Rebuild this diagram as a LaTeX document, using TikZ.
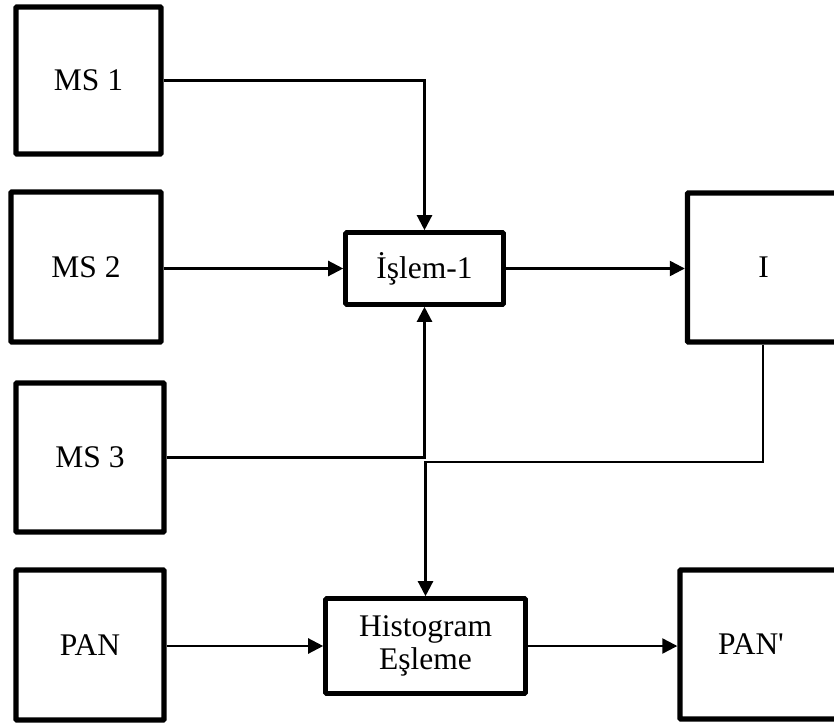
\documentclass[tikz,border=0pt]{standalone}
\usepackage{fontspec}
\setmainfont{Liberation Serif}[Ligatures=TeXOff]
\usetikzlibrary{arrows.meta}
\begin{document}
\begin{tikzpicture}[x=1pt,y=-1pt,
  lbl/.style={font=\fontsize{31.5}{33}\selectfont, inner sep=0pt, align=center},
  bigbox/.style={lbl, draw, line width=5.4pt, rounded corners=1pt},
  procbox/.style={lbl, draw, line width=4.6pt, rounded corners=1pt},
  conn/.style={draw, line width=2.3pt, -{Triangle[length=15pt,width=15pt]}}]
  \clip (0,0) rectangle (834,727);

  % input images
  \node[bigbox, minimum width=145pt, minimum height=147pt] (ms1) at (88.5,80.5) {MS 1};
  \node[bigbox, minimum width=150pt, minimum height=150pt] (ms2) at (86,267) {MS 2};
  \node[bigbox, minimum width=148pt, minimum height=149pt] (ms3) at (90,457.5) {MS 3};
  \node[bigbox, minimum width=148pt, minimum height=150pt] (pan) at (90,645) {PAN};

  % processing steps
  \node[procbox, minimum width=158pt, minimum height=72pt] (islem) at (424.5,268.5) {İşlem-1};
  \node[procbox, minimum width=200pt, minimum height=95pt] (hist) at (425.5,646) {Histogram\\Eşleme};

  % outputs (their right sides run past the page edge)
  \node[bigbox, minimum width=160pt, minimum height=149pt,
        label={[lbl, xshift=-4pt]center:I}] (I) at (767.5,267.5) {};
  \node[bigbox, minimum width=170pt, minimum height=149pt,
        label={[lbl, xshift=-14pt]center:PAN'}] (panp) at (765,644.5) {};

  % connectors
  \draw[conn] (ms1.east) -| (islem.north);
  \draw[conn] (islem.west -| ms2.east) -- (islem.west);
  \draw[conn] (ms3.east) -| (islem.south);
  \draw[conn] (islem.east) -- (islem.east -| I.west);
  \coordinate (bend) at (763,462);
  \draw[conn] (I.south -| bend) -- (bend) -| (hist.north);
  \draw[conn] (hist.west -| pan.east) -- (hist.west);
  \draw[conn] (hist.east) -- (hist.east -| panp.west);
\end{tikzpicture}
\end{document}
